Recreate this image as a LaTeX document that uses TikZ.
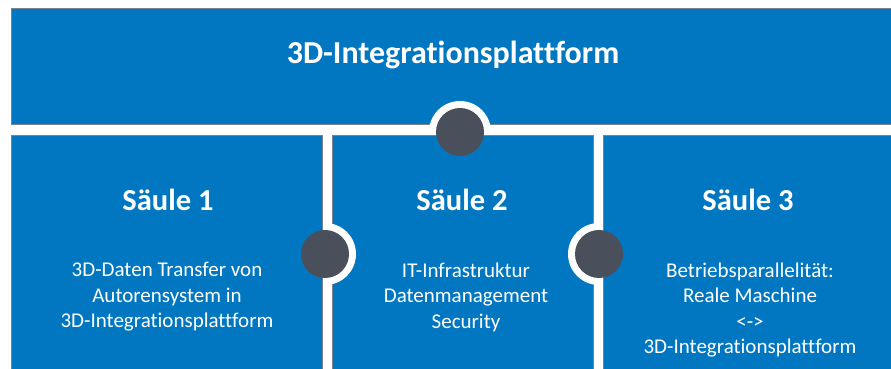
\documentclass[tikz,border=0pt]{standalone}
\usepackage{fontspec}
\setmainfont{Carlito}[Ligatures=NoCommon]
\definecolor{pblue}{HTML}{0077C0}
\definecolor{pdark}{HTML}{4A505B}
\definecolor{pedge}{HTML}{7A8290}
\begin{document}
\begin{tikzpicture}[x=1pt,y=1pt,
  panel/.style={fill=pblue,draw=pedge,line width=0.8pt},
  halo/.style={circle,fill=white,minimum size=62pt,inner sep=0pt},
  knob/.style={circle,fill=pdark,minimum size=48pt,inner sep=0pt},
  title/.style={text=white,font=\bfseries\fontsize{32}{38}\selectfont},
  head/.style={text=white,font=\bfseries\fontsize{30.5}{36}\selectfont},
  body/.style={text=white,align=center,font=\fontsize{21}{25.5}\selectfont}]
\useasboundingbox (0,0) rectangle (891,369);
\fill[white] (0,0) rectangle (891,369);
% top bar
\path[panel] (11,245) rectangle (895,361);
\node[halo] (h0) at (460,237) {};
% pillar 2
\path[panel] (332,-5) rectangle (593,234);
\node[halo] (h1) at (325,115) {};
\node[halo] (h2) at (599,115) {};
% pillars 1 and 3
\path[panel] (11,-5) rectangle (322,234);
\path[panel] (603,-5) rectangle (895,234);
% knobs
\node[knob] (k0) at (460,237) {};
\node[knob] (k1) at (325,115) {};
\node[knob] (k2) at (599,115) {};
% texts
\node[title] (t) at (453,314) {3D-Integrationsplattform};
\node[head] (s1) at (168,169) {Säule 1};
\node[head] (s2) at (462,169) {Säule 2};
\node[head] (s3) at (748,169) {Säule 3};
\node[body] (b1) at (167,72) {3D-Daten Transfer von\\Autorensystem in\\3D-Integrationsplattform};
\node[body] (b2) at (466,72) {IT-Infrastruktur\\Datenmanagement\\Security};
\node[body] (b3) at (750,59) {Betriebsparallelität:\\Reale Maschine\\<->\\3D-Integrationsplattform};
\end{tikzpicture}
\end{document}
